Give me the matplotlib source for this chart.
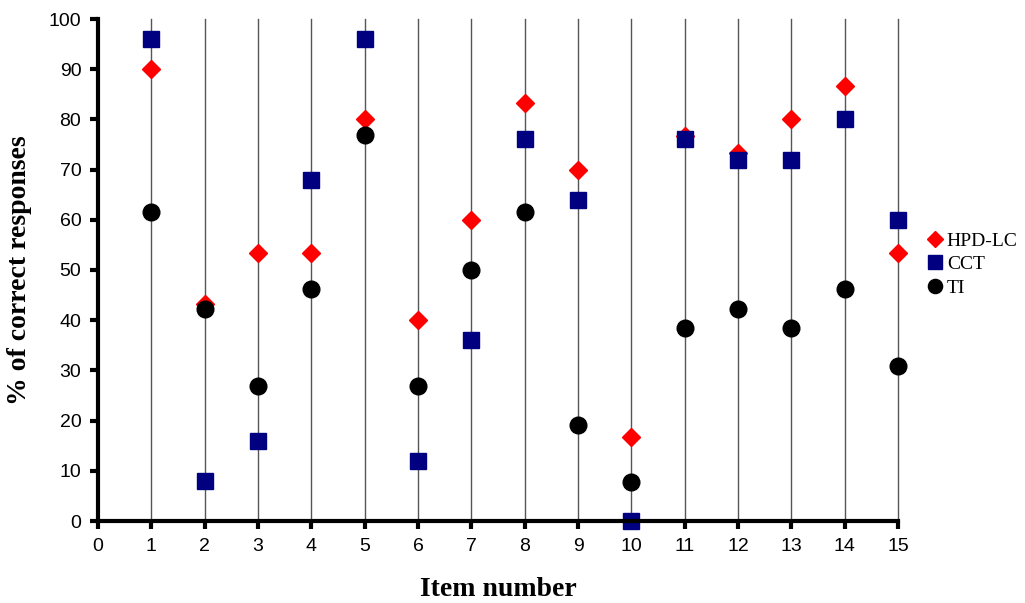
import matplotlib
matplotlib.use("Agg")
import matplotlib.pyplot as plt

items = list(range(1, 16))
hpd_lc = [90, 43.3, 53.3, 53.3, 80, 40, 60, 83.3, 70, 16.7, 76.7, 73.3, 80, 86.7, 53.3]
cct = [96, 8, 16, 68, 96, 12, 36, 76, 64, 0, 76, 72, 72, 80, 60]
ti = [61.5, 42.3, 26.9, 46.2, 76.9, 26.9, 50, 61.5, 19.2, 7.7, 38.5, 42.3, 38.5, 46.2, 30.8]
x_ticks = list(range(0, 16))
y_ticks = list(range(0, 101, 10))

fig = plt.figure(figsize=(10.25, 6.03), dpi=100)
ax = fig.add_axes([98/1025, 82/603, 800/1025, 502/603])

for x in items:
    ax.axvline(x, color="#555555", lw=1.0, zorder=1, clip_on=False)

ax.plot(items, hpd_lc, ls="none", marker="D", ms=9, color="#ff0000", label="HPD-LC", zorder=3, clip_on=False)
ax.plot(items, cct, ls="none", marker="s", ms=11.5, color="#000080", label="CCT", zorder=4, clip_on=False)
ax.plot(items, ti, ls="none", marker="o", ms=12, color="#000000", label="TI", zorder=5, clip_on=False)

ax.set_xlim(0, 15)
ax.set_ylim(0, 100)
ax.set_xticks(x_ticks)
ax.set_yticks(y_ticks)
for s in ["top", "right"]:
    ax.spines[s].set_visible(False)
for s in ["left", "bottom"]:
    ax.spines[s].set_linewidth(3)
    ax.spines[s].set_zorder(6)
ax.tick_params(axis="both", width=3, length=6, direction="out", labelsize=14, pad=6)
for lab in ax.get_xticklabels() + ax.get_yticklabels():
    lab.set_family("Liberation Sans")

ax.set_xlabel("Item number", fontsize=20, fontweight="bold", family="Liberation Serif", labelpad=16)
ax.set_ylabel("% of correct responses", fontsize=20, fontweight="bold", family="Liberation Serif", labelpad=12)

leg = ax.legend(loc="upper left", bbox_to_anchor=(1.036, 1 - (232 - 19) / 502), frameon=False,
                prop={"family": "Liberation Serif", "size": 14}, handlelength=0.8,
                handletextpad=0.23, labelspacing=0.3, markerscale=0.85, borderaxespad=0,
                borderpad=0)

fig.savefig("out.png", dpi=100)
